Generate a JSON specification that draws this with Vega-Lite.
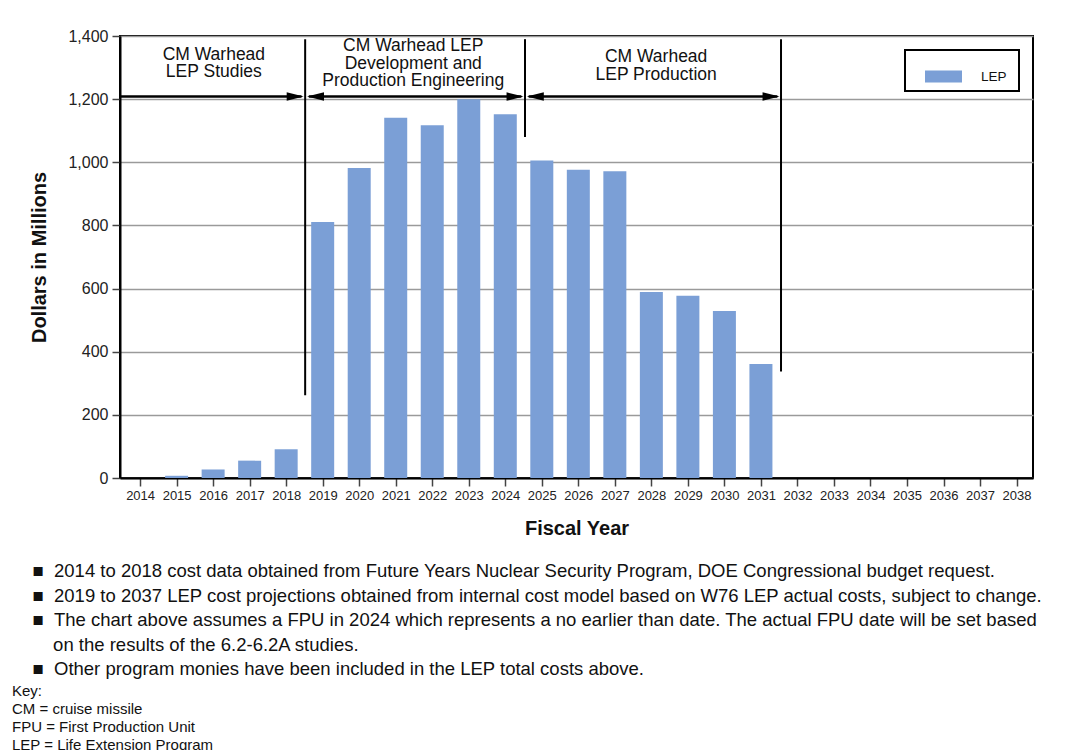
{
  "$schema": "https://vega.github.io/schema/vega-lite/v6.json",
  "width": 913,
  "height": 442,
  "autosize": {"type": "none"},
  "padding": {"left": 120, "top": 36, "right": 39, "bottom": 272},
  "background": "white",
  "config": {
    "font": "Liberation Sans",
    "view": {"stroke": "black", "strokeWidth": 2},
    "axis": {
      "labelFont": "Liberation Sans",
      "titleFont": "Liberation Sans",
      "labelColor": "#222222",
      "titleColor": "#111111",
      "domainColor": "black",
      "domainWidth": 2,
      "tickColor": "#444444",
      "tickWidth": 1.5,
      "tickSize": 8
    }
  },
  "title": {
    "text": [
      "\u200b\u00a0\u00a0\u00a0\u00a0■\u00a0\u00a02014 to 2018 cost data obtained from Future Years Nuclear Security Program, DOE Congressional budget request.",
      "\u200b\u00a0\u00a0\u00a0\u00a0■\u00a0\u00a02019 to 2037 LEP cost projections obtained from internal cost model based on W76 LEP actual costs, subject to change.",
      "\u200b\u00a0\u00a0\u00a0\u00a0■\u00a0\u00a0The chart above assumes a FPU in 2024 which represents a no earlier than date. The actual FPU date will be set based",
      "\u200b\u00a0\u00a0\u00a0\u00a0\u00a0\u00a0\u00a0\u00a0on the results of the 6.2-6.2A studies.",
      "\u200b\u00a0\u00a0\u00a0\u00a0■\u00a0\u00a0Other program monies have been included in the LEP total costs above."
    ],
    "subtitle": ["Key:", "CM = cruise missile", "FPU = First Production Unit", "LEP = Life Extension Program"],
    "orient": "bottom",
    "anchor": "start",
    "frame": "group",
    "dx": -108,
    "offset": 24,
    "font": "Liberation Sans",
    "fontSize": 18.5,
    "fontWeight": "normal",
    "lineHeight": 24.5,
    "color": "#111111",
    "subtitleFont": "Liberation Sans",
    "subtitleFontSize": 15,
    "subtitleLineHeight": 18,
    "subtitleColor": "#111111",
    "subtitlePadding": 5
  },
  "encoding": {
    "x": {
      "field": "year",
      "type": "quantitative",
      "scale": {"domain": [2013.45, 2038.45], "nice": false, "zero": false, "padding": 0},
      "axis": {
        "values": [2014, 2015, 2016, 2017, 2018, 2019, 2020, 2021, 2022, 2023, 2024, 2025, 2026, 2027, 2028, 2029, 2030, 2031, 2032, 2033, 2034, 2035, 2036, 2037, 2038],
        "tickCount": 25,
        "format": "d",
        "labelAngle": 0,
        "labelFontSize": 13,
        "labelPadding": 3,
        "labelFlush": false,
        "labelOverlap": false,
        "grid": false,
        "title": "Fiscal Year",
        "titleFontSize": 20,
        "titleFontWeight": "bold",
        "titlePadding": 16
      }
    },
    "y": {
      "field": "value",
      "type": "quantitative",
      "scale": {"domain": [0, 1400], "nice": false},
      "axis": {
        "values": [0, 200, 400, 600, 800, 1000, 1200, 1400],
        "format": ",d",
        "labelFontSize": 16,
        "labelPadding": 4,
        "grid": true,
        "gridColor": "#9a9a9a",
        "gridWidth": 1.5,
        "title": "Dollars in Millions",
        "titleFontSize": 20,
        "titleFontWeight": "bold",
        "titlePadding": 18
      }
    }
  },
  "layer": [
    {
      "data": {
        "values": [
          {"year": 2014, "value": 0, "series": "LEP"},
          {"year": 2015, "value": 7, "series": "LEP"},
          {"year": 2016, "value": 27, "series": "LEP"},
          {"year": 2017, "value": 55, "series": "LEP"},
          {"year": 2018, "value": 91, "series": "LEP"},
          {"year": 2019, "value": 811, "series": "LEP"},
          {"year": 2020, "value": 982, "series": "LEP"},
          {"year": 2021, "value": 1141, "series": "LEP"},
          {"year": 2022, "value": 1117, "series": "LEP"},
          {"year": 2023, "value": 1200, "series": "LEP"},
          {"year": 2024, "value": 1152, "series": "LEP"},
          {"year": 2025, "value": 1006, "series": "LEP"},
          {"year": 2026, "value": 976, "series": "LEP"},
          {"year": 2027, "value": 972, "series": "LEP"},
          {"year": 2028, "value": 589, "series": "LEP"},
          {"year": 2029, "value": 577, "series": "LEP"},
          {"year": 2030, "value": 529, "series": "LEP"},
          {"year": 2031, "value": 361, "series": "LEP"}
        ]
      },
      "mark": {"type": "bar", "width": 23},
      "encoding": {
        "color": {
          "field": "series",
          "type": "nominal",
          "scale": {"domain": ["LEP"], "range": ["#7b9fd6"]},
          "legend": {
            "title": null,
            "orient": "top-right",
            "offset": 14,
            "strokeColor": "black",
            "padding": 8,
            "symbolOffset": 12,
            "symbolType": "M-1,-0.32H1V0.32H-1Z",
            "symbolSize": 1369,
            "symbolStrokeWidth": 0,
            "symbolOpacity": 1,
            "labelFontSize": 13.5,
            "labelOffset": 19,
            "labelExpr": "datum.label + '\u00a0\u200b'",
            "labelFont": "Liberation Sans",
            "labelColor": "#111111",
            "encode": {"legend": {"update": {"strokeWidth": {"value": 2}}}}
          }
        }
      }
    },
    {
      "data": {
        "values": [
          {"year": 2018.52, "value": 1390, "value2": 262},
          {"year": 2024.54, "value": 1390, "value2": 1080},
          {"year": 2031.55, "value": 1390, "value2": 337}
        ]
      },
      "mark": {"type": "rule", "color": "black", "strokeWidth": 2},
      "encoding": {
        "y2": {"field": "value2"}
      }
    },
    {
      "data": {
        "values": [
          {"year": 2013.45, "year2": 2018.42, "value": 1208},
          {"year": 2018.62, "year2": 2024.44, "value": 1208},
          {"year": 2024.64, "year2": 2031.45, "value": 1208}
        ]
      },
      "mark": {"type": "rule", "color": "black", "strokeWidth": 2.5},
      "encoding": {
        "x2": {"field": "year2"}
      }
    },
    {
      "data": {
        "values": [
          {"year": 2018.48, "value": 1208, "dir": "right"},
          {"year": 2018.57, "value": 1208, "dir": "left"},
          {"year": 2024.5, "value": 1208, "dir": "right"},
          {"year": 2024.59, "value": 1208, "dir": "left"},
          {"year": 2031.51, "value": 1208, "dir": "right"}
        ]
      },
      "mark": {"type": "point", "filled": true, "color": "black", "opacity": 1, "size": 1156, "strokeWidth": 0},
      "encoding": {
        "shape": {
          "field": "dir",
          "type": "nominal",
          "scale": {"domain": ["right", "left"], "range": ["M0,0L-1,-0.25L-1,0.25Z", "M0,0L1,-0.25L1,0.25Z"]},
          "legend": null
        }
      }
    },
    {
      "data": {
        "values": [
          {"year": 2016.02, "value": 1340, "label": "CM Warhead\nLEP Studies"},
          {"year": 2021.48, "value": 1368, "label": "CM Warhead LEP\nDevelopment and\nProduction Engineering"},
          {"year": 2028.13, "value": 1333, "label": "CM Warhead\nLEP Production"}
        ]
      },
      "mark": {"type": "text", "lineBreak": "\n", "fontSize": 17.5, "lineHeight": 17.5, "align": "center", "baseline": "middle", "color": "#111111", "font": "Liberation Sans"},
      "encoding": {
        "text": {"field": "label"}
      }
    }
  ]
}
